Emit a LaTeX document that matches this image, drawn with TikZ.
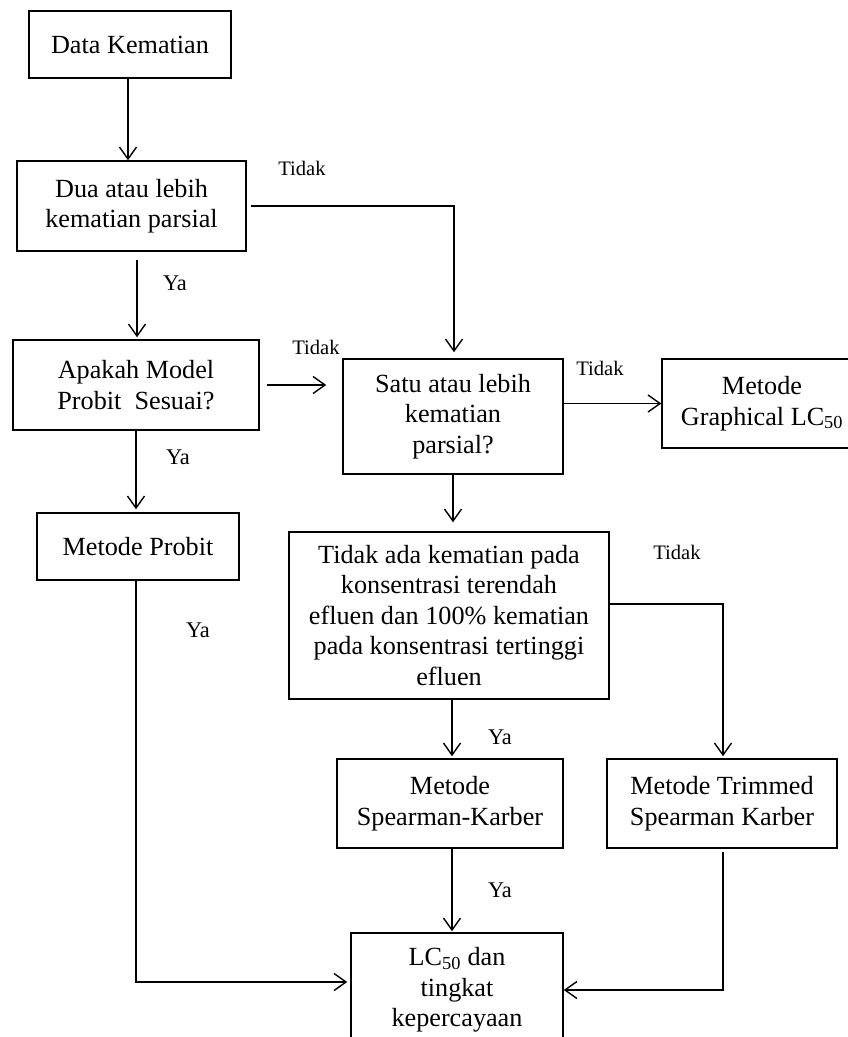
\documentclass[tikz,border=0pt]{standalone}
\usepackage{fontspec}
\setmainfont{Liberation Serif}
\usetikzlibrary{arrows.meta,calc}
\begin{document}
\begin{tikzpicture}[x=1pt,y=-1pt,
  box/.style={draw, line width=1.5pt, align=center, inner sep=0pt, font=\fontsize{26.2}{30.5}\selectfont},
  arr/.style={-{Straight Barb[length=12pt,width=17pt]}, line width=1.4pt},
  lbl/.style={font=\fontsize{20.6}{24}\selectfont, inner sep=0pt},
  lblya/.style={font=\fontsize{22.4}{26}\selectfont, inner sep=0pt}]
\useasboundingbox (0,0) rectangle (848,1037);
\node[box, minimum width=202pt, minimum height=67pt] (d1) at (130,44.5) {Data Kematian};
\node[box, minimum width=229pt, minimum height=90pt] (d2) at (131.5,206) {Dua atau lebih\\kematian parsial};
\node[box, minimum width=246pt, minimum height=90pt] (d3) at (136,385) {Apakah Model\\Probit~ Sesuai?};
\node[box, minimum width=202pt, minimum height=67pt] (d4) at (138,546.5) {Metode Probit};
\node[box, minimum width=220pt, minimum height=115pt] (d5) at (453,416.5) {Satu atau lebih\\kematian\\parsial?};
\node[box, minimum width=200pt, minimum height=89pt] (d6) at (762,403.5) {Metode\\Graphical LC\textsubscript{50}};
\node[box, minimum width=320pt, minimum height=167pt] (d7) at (449,615.5) {Tidak ada kematian pada\\konsentrasi terendah\\efluen dan 100\% kematian\\pada konsentrasi tertinggi\\efluen};
\node[box, minimum width=226pt, minimum height=89pt] (d8) at (450,803.5) {Metode\\Spearman-Karber};
\node[box, minimum width=230pt, minimum height=89pt] (d9) at (722,803.5) {Metode Trimmed\\Spearman Karber};
\node[box, minimum width=212pt, minimum height=114pt] (d10) at (457,990) {LC\textsubscript{50} dan\\tingkat\\kepercayaan};

\draw[arr] ($(d1.south)+(-2,0)$) -- ($(d1.south |- d2.north)+(-2,0)$);
\draw[arr] ($(d2.south)+(5.5,8)$) -- ($(d2.south |- d3.north)+(5.5,-2)$);
\draw[arr] ($(d2.east)+(4,0)$) -| ($(d5.north)+(1,-6)$);
\draw[arr] ($(d3.east)+(7,0)$) -- ($(d5.west |- d3.east)+(-16,0)$);
\draw[arr] (d3.south) -- ($(d3.south |- d4.north)+(0,-3)$);
\draw[arr] ($(d4.south)+(-2,0)$) |- ($(d10.west)+(-3,-8)$);
\draw[arr] (d5.east |- d6.west) -- (d6.west);
\draw[arr] (d5.south) -- ($(d5.south |- d7.north)+(0,-9)$);
\draw[arr] ($(d7.east)+(0,-11.5)$) -| ($(d9.north)+(1,-2)$);
\draw[arr] ($(d7.south)+(3,0)$) -- ($(d7.south |- d8.north)+(3,-2)$);
\draw[arr] ($(d8.south)+(2,0)$) -- ($(d8.south |- d10.north)+(2,-1)$);
\draw[arr] ($(d9.south)+(1,3)$) |- (d10.east);

\node[lbl] (t1) at (302,168) {Tidak};
\node[lblya] (y1) at (175,283) {Ya};
\node[lbl] (t2) at (316,347) {Tidak};
\node[lblya] (y2) at (178,457) {Ya};
\node[lbl] (t3) at (600,368) {Tidak};
\node[lblya] (y3) at (198,630) {Ya};
\node[lbl] (t4) at (677,552) {Tidak};
\node[lblya] (y4) at (500,737) {Ya};
\node[lblya] (y5) at (500,890) {Ya};
\end{tikzpicture}
\end{document}
